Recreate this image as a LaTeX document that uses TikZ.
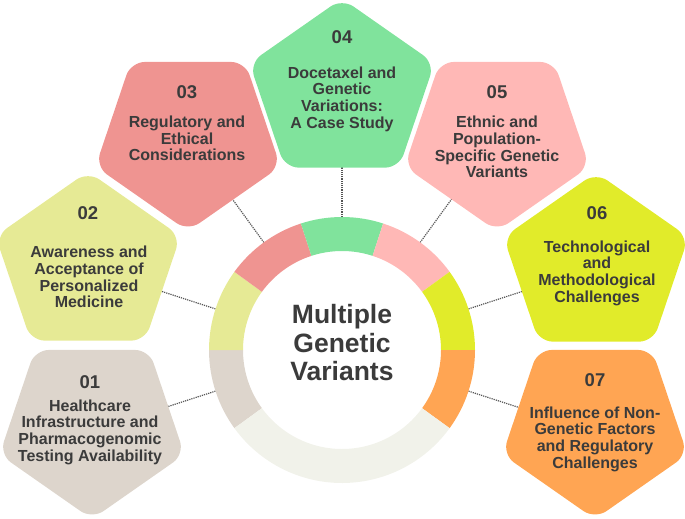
\documentclass[tikz,border=0pt]{standalone}
\usepackage{fontspec}
\setmainfont{Liberation Sans}
\definecolor{txt}{HTML}{3B3B3B}
\definecolor{dotc}{HTML}{555555}
\definecolor{c1}{HTML}{DDD5CC}
\definecolor{c2}{HTML}{E6EA95}
\definecolor{c3}{HTML}{EF9491}
\definecolor{c4}{HTML}{80E39C}
\definecolor{c5}{HTML}{FFB8B6}
\definecolor{c6}{HTML}{E1EB2A}
\definecolor{c7}{HTML}{FFA553}
\definecolor{cg}{HTML}{F1F2EA}
\newcommand{\pentshape}[4]{%
  \begin{scope}[shift={(#1,-#2)},xscale=1.04]
    \fill[#4,rounded corners=14pt] ({#3+36}:75.64) -- ({#3+72}:93.5) -- ({#3+144}:93.5) -- ({#3+216}:93.5) -- ({#3+288}:93.5) -- (#3:93.5) -- cycle;
  \end{scope}}
\begin{document}
\begin{tikzpicture}[x=1pt,y=1pt,
  num/.style={font=\bfseries\fontsize{18.5}{20}\selectfont, text=txt, inner sep=0pt},
  body/.style={font=\bfseries\fontsize{16}{16.7}\selectfont, text=txt, align=center, inner sep=0pt},
  title/.style={font=\bfseries\fontsize{26.5}{28.5}\selectfont, text=txt, align=center, inner sep=0pt},
  conn/.style={draw=dotc, line width=1.2pt, dash pattern=on 1.2pt off 1pt}]
\useasboundingbox (0,0) rectangle (685,-519);
% connector end points
\begin{scope}[shift={(342,-350)}]
  \foreach \i/\a in {1/198,2/162,3/126,4/90,5/54,6/18,7/-18}{
    \coordinate (r\i) at (\a:133);
    \coordinate (p\i) at (\a:195);
  }
\end{scope}
\foreach \i in {1,...,7}{\draw[conn] (r\i) -- (p\i);}
% pentagons
\pentshape{92}{425.6}{-90}{c1}
\pentshape{88}{265}{90}{c2}
\pentshape{188}{137.6}{-90}{c3}
\pentshape{342}{92}{90}{c4}
\pentshape{497}{137.6}{-90}{c5}
\pentshape{596}{266}{90}{c6}
\pentshape{595}{425.6}{-90}{c7}
% ring
\begin{scope}[shift={(342,-350)}]
  \foreach \a/\b/\c in {180/216/c1,144/180/c2,108/144/c3,72/108/c4,36/72/c5,0/36/c6,324/360/c7,216/324/cg}{
    \fill[\c] (\a:133) arc[start angle=\a, end angle=\b, radius=133] -- (\b:99) arc[start angle=\b, end angle=\a, radius=99] -- cycle;
  }
\end{scope}
% texts
\node[title] (center) at (342,-343) {Multiple\\Genetic\\Variants};
\node[num] (n1) at (90,-382) {01};
\node[body] (t1) at (90,-432) {Healthcare\\Infrastructure and\\Pharmacogenomic\\Testing Availability};
\node[num] (n2) at (88,-213) {02};
\node[body] (t2) at (89,-277) {Awareness and\\Acceptance of\\Personalized\\Medicine};
\node[num] (n3) at (187,-92) {03};
\node[body] (t3) at (187,-138.5) {Regulatory and\\Ethical\\Considerations};
\node[num] (n4) at (342,-37) {04};
\node[body] (t4) at (342,-99) {Docetaxel and\\Genetic\\Variations:\\A Case Study};
\node[num] (n5) at (497,-92) {05};
\node[body] (t5) at (497,-147) {Ethnic and\\Population-\\Specific Genetic\\Variants};
\node[num] (n6) at (597,-213) {06};
\node[body] (t6) at (597,-273) {Technological\\and\\Methodological\\Challenges};
\node[num] (n7) at (595,-380) {07};
\node[body] (t7) at (595,-439) {Influence of Non-\\Genetic Factors\\and Regulatory\\Challenges};
\end{tikzpicture}
\end{document}
